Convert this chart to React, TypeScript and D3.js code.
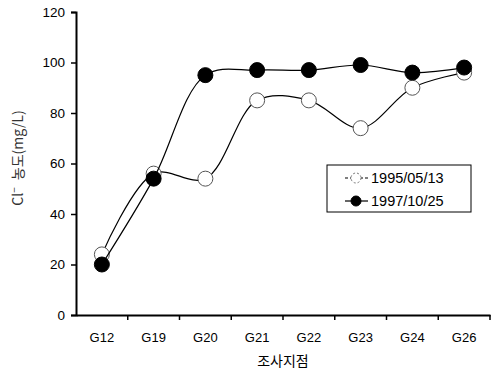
import * as d3 from "d3";
import { useEffect, useRef } from "react";

const categories = ["G12", "G19", "G20", "G21", "G22", "G23", "G24", "G26"];
const series1995 = [24, 56, 54, 85, 85, 74, 90, 96];
const series1997 = [20, 54, 95, 97, 97, 99, 96, 98];
const yTicks = [0, 20, 40, 60, 80, 100, 120];
const seriesNames = ["1995/05/13", "1997/10/25"];

const W = 494;
const H = 375;
const FONT = "'Liberation Sans', Arial, sans-serif";
const KFONT = "'Noto Sans CJK KR', sans-serif";

function App() {
  const ref = useRef<SVGSVGElement>(null);

  useEffect(() => {
    const svg = d3.select(ref.current);
    svg.selectAll("*").remove();

    const left = 76, right = 490, top = 12, bottom = 315;

    const x = d3.scaleBand().domain(categories).range([left, right]);
    const y = d3.scaleLinear().domain([0, 120]).range([bottom, top]);

    // y axis
    const yAxis = svg
      .append("g")
      .attr("transform", `translate(${left},0)`)
      .call(d3.axisLeft(y).tickValues(yTicks).tickSize(5).tickPadding(6));
    yAxis.select(".domain").attr("stroke", "#000").attr("stroke-width", 2);
    yAxis.selectAll(".tick line").attr("stroke", "#000").attr("stroke-width", 1.5);
    yAxis.selectAll("text").attr("font-family", FONT).attr("font-size", 13.5).attr("fill", "#000");

    // x axis, ticks between the categories
    const xAxis = svg
      .append("g")
      .attr("transform", `translate(0,${bottom})`)
      .call(d3.axisBottom(x).tickSize(0).tickPadding(18));
    xAxis.select(".domain").attr("stroke", "#000").attr("stroke-width", 2);
    xAxis.selectAll("text").attr("font-family", FONT).attr("font-size", 13).attr("fill", "#000");
    xAxis
      .selectAll(".sep")
      .data(categories)
      .enter()
      .append("line")
      .attr("x1", (d) => (x(d) as number) + x.bandwidth())
      .attr("x2", (d) => (x(d) as number) + x.bandwidth())
      .attr("y1", 0)
      .attr("y2", 5)
      .attr("stroke", "#000")
      .attr("stroke-width", 1.5);

    const cx = (i: number) => (x(categories[i]) as number) + x.bandwidth() / 2;

    const line = d3
      .line<number>()
      .x((_, i) => cx(i))
      .y((d) => y(d))
      .curve(d3.curveCatmullRom.alpha(0.5));

    const drawSeries = (vals: number[], fill: string) => {
      svg
        .append("path")
        .datum(vals)
        .attr("fill", "none")
        .attr("stroke", "#000")
        .attr("stroke-width", 1.2)
        .attr("d", line);
      svg
        .append("g")
        .selectAll("circle")
        .data(vals)
        .enter()
        .append("circle")
        .attr("cx", (_, i) => cx(i))
        .attr("cy", (d) => y(d))
        .attr("r", 7.5)
        .attr("fill", fill)
        .attr("stroke", fill === "#fff" ? "#555" : "#000")
        .attr("stroke-width", 1);
    };

    drawSeries(series1995, "#fff");
    drawSeries(series1997, "#000");

    // legend
    const lg = svg.append("g");
    lg.append("rect")
      .attr("x", 327)
      .attr("y", 165)
      .attr("width", 144)
      .attr("height", 47)
      .attr("fill", "#fff")
      .attr("stroke", "#000")
      .attr("stroke-width", 1);
    seriesNames.forEach((name, i) => {
      const ly = 178 + i * 23;
      lg.append("line")
        .attr("x1", 345)
        .attr("x2", 368)
        .attr("y1", ly)
        .attr("y2", ly)
        .attr("stroke", "#000")
        .attr("stroke-width", 1.2)
        .attr("stroke-dasharray", i === 0 ? "3,2" : null);
      lg.append("circle")
        .attr("cx", 356)
        .attr("cy", ly)
        .attr("r", 5)
        .attr("fill", i === 0 ? "#fff" : "#000")
        .attr("stroke", i === 0 ? "#777" : "#000")
        .attr("stroke-dasharray", i === 0 ? "2,2" : null);
      lg.append("text")
        .attr("x", 371)
        .attr("y", ly + 5)
        .attr("font-family", FONT)
        .attr("font-size", 14.5)
        .attr("fill", "#000")
        .text(name);
    });

    // axis titles
    svg
      .append("text")
      .attr("x", (left + right) / 2)
      .attr("y", 366)
      .attr("text-anchor", "middle")
      .attr("font-family", KFONT)
      .attr("font-size", 14)
      .attr("fill", "#000")
      .text("조사지점");

    const yt = svg
      .append("text")
      .attr("transform", `translate(23,158) rotate(-90)`)
      .attr("text-anchor", "middle")
      .attr("font-family", KFONT)
      .attr("font-size", 14)
      .attr("fill", "#333");
    yt.append("tspan").text("Cl");
    yt.append("tspan").attr("dy", -5).attr("font-size", 10).text("−");
    yt.append("tspan").attr("dy", 5).attr("dx", 7).text("농도(mg/L)");
  }, []);

  return <svg ref={ref} width={W} height={H} style={{ display: "block", position: "absolute", left: 0, top: 0 }} />;
}

export default App;
